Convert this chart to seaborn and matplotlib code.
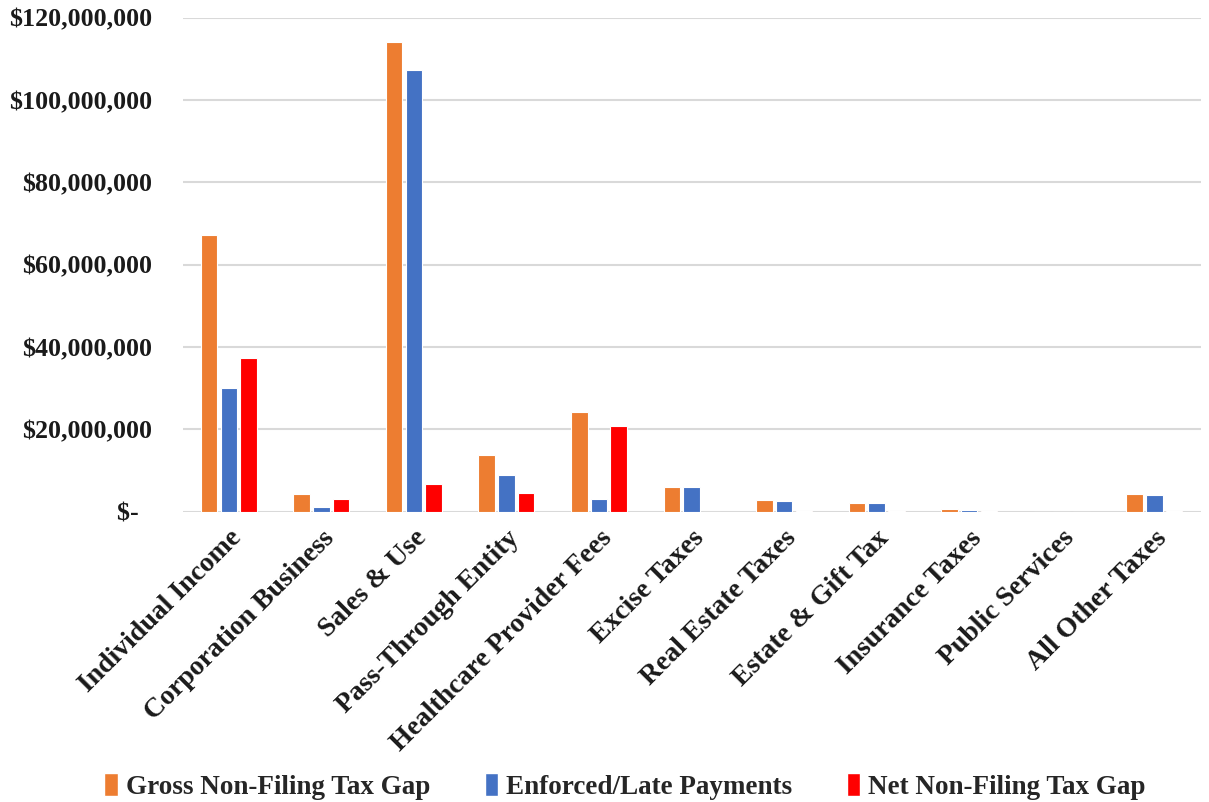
import pandas as pd
import matplotlib.pyplot as plt
import seaborn as sns
from matplotlib.patches import Patch
from matplotlib.ticker import FuncFormatter

categories = [
    "Individual Income", "Corporation Business", "Sales & Use", "Pass-Through Entity",
    "Healthcare Provider Fees", "Excise Taxes", "Real Estate Taxes", "Estate & Gift Tax",
    "Insurance Taxes", "Public Services", "All Other Taxes",
]
series_names = ["Gross Non-Filing Tax Gap", "Enforced/Late Payments", "Net Non-Filing Tax Gap"]
gross = [67.3e6, 4.2e6, 114.1e6, 13.8e6, 24.2e6, 5.9e6, 2.9e6, 2.2e6, 0.56e6, 0.0, 4.2e6]
enforced = [30.0e6, 1.1e6, 107.2e6, 9.0e6, 3.2e6, 5.9e6, 2.7e6, 2.0e6, 0.5e6, 0.0, 4.1e6]
net = [37.3e6, 3.0e6, 6.8e6, 4.5e6, 20.8e6, 0.0, 0.15e6, 0.15e6, 0.05e6, 0.0, 0.05e6]
colors = ["#ED7D31", "#4472C4", "#FF0000"]

df = pd.DataFrame({
    "category": categories * 3,
    "series": [s for s in series_names for _ in categories],
    "value": gross + enforced + net,
})

sns.set_theme(style="white")
plt.rcParams["font.family"] = ["Liberation Serif", "DejaVu Serif"]
plt.rcParams["font.weight"] = "bold"

fig = plt.figure(figsize=(12.09, 8.02), dpi=100)
ax = fig.add_axes([0.151, 0.362, 0.842, 0.616])

sns.barplot(data=df, x="category", y="value", hue="series", palette=colors,
            saturation=1, width=0.64, gap=0.16, edgecolor="white", linewidth=0.8,
            ax=ax, legend=False, errorbar=None)

ax.set_ylim(0, 120e6)
ax.set_yticks(range(0, 120_000_001, 20_000_000))
# accounting style: zero shown as "$-" with a little space after it
ax.yaxis.set_major_formatter(FuncFormatter(lambda v, _: "$-\u2007" if v == 0 else f"${v:,.0f}"))
ax.grid(axis="y", color="#D9D9D9", linewidth=1.5)
ax.set_axisbelow(True)
for s in ax.spines.values():
    s.set_visible(False)
ax.axhline(0, color="#D9D9D9", linewidth=2, zorder=0.5)
ax.set_xlabel("")
ax.set_ylabel("")
ax.tick_params(axis="both", length=0, colors="#1a1a1a")
ax.tick_params(axis="y", labelsize=18.7, pad=22)
ax.tick_params(axis="x", labelsize=20, pad=10)
plt.setp(ax.get_xticklabels(), rotation=45, ha="right", rotation_mode="anchor", fontweight="bold")
plt.setp(ax.get_yticklabels(), fontweight="bold")

handles = [Patch(facecolor=c, label=n) for c, n in zip(colors, series_names)]
fig.legend(handles=handles, loc="center", bbox_to_anchor=(0.517, 0.019), ncol=3,
           frameon=False, handlelength=0.5, handleheight=0.9,
           handletextpad=0.3, columnspacing=2.0,
           prop={"family": ["Liberation Serif"], "weight": "bold", "size": 19.5})

fig.savefig("out.png", dpi=100)
